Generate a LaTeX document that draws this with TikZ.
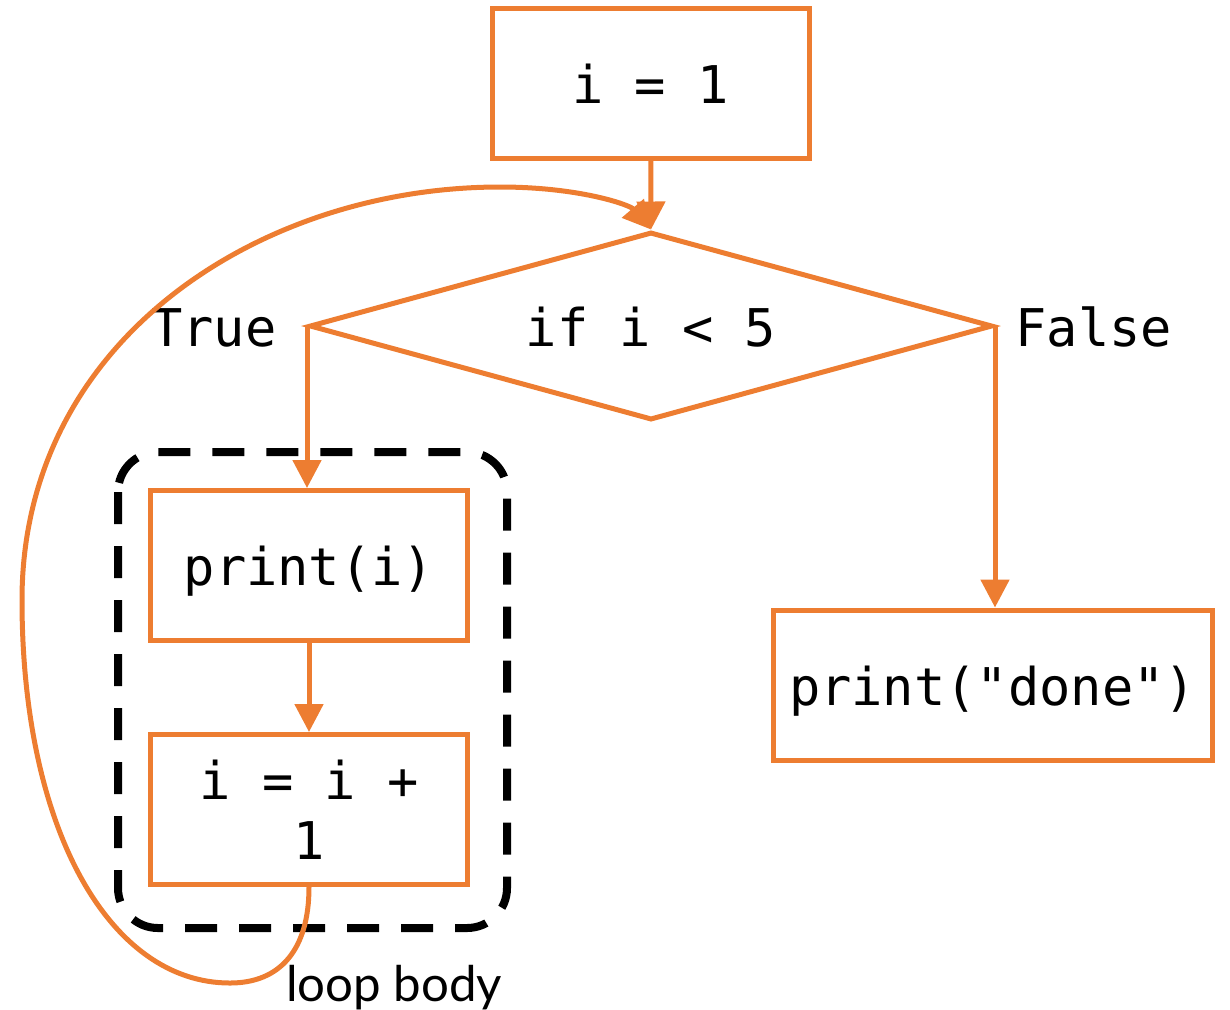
\documentclass[tikz,border=0pt]{standalone}
\usepackage{fontspec}
\setmonofont{DejaVu Sans Mono}
\newfontfamily\latofont{Lato}
\usetikzlibrary{shapes.geometric,arrows.meta,positioning}
\definecolor{flow}{RGB}{237,125,49}
\tikzset{
  codefont/.style={font=\ttfamily\fontsize{26}{30}\selectfont},
  oneline/.style={text height=26pt,text depth=6pt},
  stepbox/.style={draw=flow,line width=2.5pt,minimum width=158.5pt,minimum height=75pt,inner sep=0pt,align=center,codefont},
  decision/.style={diamond,draw=flow,line width=2.5pt,minimum width=341.5pt,minimum height=94pt,aspect=3.63,inner sep=0pt,codefont,oneline},
  arr/.style={draw=flow,line width=2.5pt,-{Triangle[length=14pt,width=14pt]}},
  loopbox/.style={draw=black,line width=4pt,dash pattern=on 16pt off 11pt,rounded corners=20pt}
}

\begin{document}
\begin{tikzpicture}[x=0.5pt,y=-0.5pt]
\useasboundingbox (0,0) rectangle (1230,1009);
\draw[loopbox] (118,452) rectangle (507,928);
\node[stepbox,oneline] (init) at (650.5,83) {i = 1};
\node[decision] (cond) at (651,326) {if i < 5};
\node[stepbox,oneline] (body) at (309,565.5) {print(i)};
\node[stepbox] (step) at (309,809.5) {i = i +\\1};
\node[stepbox,oneline,minimum width=219.5pt] (done) at (992.5,685) {print("done")};
\node[codefont,oneline,inner sep=0pt,left=15pt of cond.west] (yes) {True};
\node[codefont,oneline,inner sep=0pt,right=10pt of cond.east] (no) {False};
\node[font=\latofont\fontsize{24.6}{30}\selectfont,inner sep=0pt,anchor=base] (looplbl) at (394,1001) {loop body};
\draw[arr] (init) -- (cond.north);
\draw[arr] (cond.west) -- (cond.west |- body.north);
\draw[arr] (cond.east) -- (cond.east |- done.north);
\draw[arr] (body) -- (step);
% back edge of the loop
\draw[arr] (step.south) .. controls (309,950) and (280,983) .. (230,983)
  .. controls (110,983) and (22,830) .. (22,600)
  .. controls (22,340) and (260,187) .. (500,187)
  .. controls (580,187) and (630,205) .. (cond.north);
\end{tikzpicture}
\end{document}
